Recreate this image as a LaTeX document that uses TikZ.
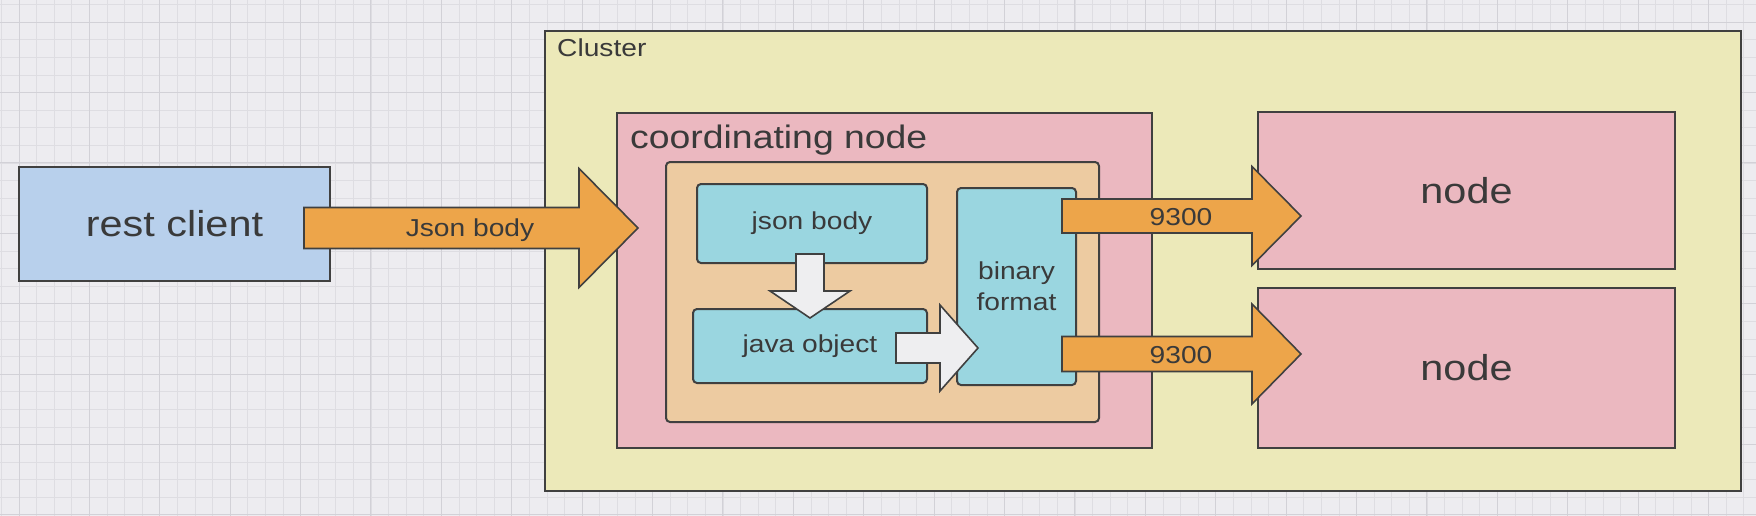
\documentclass[tikz,border=0pt]{standalone}
\usepackage{fontspec}
\setmainfont{Liberation Sans}[FakeStretch=1.15]
\usepackage{xcolor}
\usepackage{tikz}
\usetikzlibrary{calc, positioning}
\definecolor{gridbg}{RGB}{237,236,240}
\definecolor{gridminor}{RGB}{222,221,226}
\definecolor{gridmajor}{RGB}{210,209,215}
\definecolor{clusterfill}{RGB}{236,233,185}
\definecolor{pinkfill}{RGB}{235,184,192}
\definecolor{peachfill}{RGB}{237,203,161}
\definecolor{cyanfill}{RGB}{154,214,224}
\definecolor{bluefill}{RGB}{184,208,236}
\definecolor{orangefill}{RGB}{237,165,74}
\definecolor{whitefill}{RGB}{238,238,240}
\definecolor{edge}{RGB}{64,64,64}
\definecolor{ink}{RGB}{58,58,58}
\newcommand{\smalltxt}{\fontsize{24.5}{31}\selectfont}
\newcommand{\midtxt}{\fontsize{32.5}{39}\selectfont}
\newcommand{\bigtxt}{\fontsize{36}{43}\selectfont}
\tikzstyle{gridthin} = [draw=gridminor, line width=1pt]
\tikzstyle{gridthick} = [draw=gridmajor, line width=1pt]
\tikzstyle{box} = [rectangle, draw=edge, line width=2pt, inner sep=0pt, outer sep=0pt, text=ink]
\tikzstyle{clusterbox} = [box, fill=clusterfill, line width=2.6pt]
\tikzstyle{pinkbox} = [box, fill=pinkfill, font=\bigtxt]
\tikzstyle{peachbox} = [box, fill=peachfill, rounded corners=4pt]
\tikzstyle{cyanbox} = [box, fill=cyanfill, rounded corners=4pt, font=\smalltxt]
\tikzstyle{clientbox} = [box, fill=bluefill, font=\bigtxt]
\tikzstyle{lbl} = [inner sep=0pt, text=ink, font=\smalltxt]
\tikzstyle{fatarrow} = [draw=edge, line width=1.6pt, fill=orangefill]
\tikzstyle{whitearrow} = [draw=edge, line width=1.6pt, fill=whitefill]
% block arrow: style, tail, tip, shaft half width, head half width, head length
\newcommand{\blockarrow}[6]{%
  \coordinate (ba-h) at ($(#3)!#6!(#2)$);
  \draw[#1] ($(#2)!#4!90:(#3)$) -- ($(ba-h)!#4!90:(#3)$) -- ($(ba-h)!#5!90:(#3)$) -- (#3)
    -- ($(ba-h)!#5!-90:(#3)$) -- ($(ba-h)!#4!-90:(#3)$) -- ($(#2)!#4!-90:(#3)$) -- cycle;
}

\begin{document}
\begin{tikzpicture}[x=1pt, y=-1pt]
    % Background grid
    \useasboundingbox (0,0) rectangle (1756,516);
    \fill[gridbg] (0,0) rectangle (1756,516);
    \foreach \k in {-1,...,98} \draw[gridthin] ({round(18.5+17.6*\k)+0.5},0) -- ++(0,516);
    \foreach \k in {0,...,28} \draw[gridthin] (0,{round(4.1+17.6*\k)+0.5}) -- ++(1756,0);
    \foreach \k in {0,...,24} \draw[gridthick] ({round(18.5+70.4*\k)+0.5},0) -- ++(0,516);
    \foreach \k in {0,...,7} \draw[gridthick] (0,{round(21.7+70.4*\k)+0.5}) -- ++(1756,0);

    % Cluster and coordinating node
    \node[clusterbox, minimum width=1196pt, minimum height=460pt] (cluster) at (1143,261) {};
    \node[lbl, anchor=base west] (clusterlbl) at ($(cluster.north west)+(12,26)$) {Cluster};
    \node[pinkbox, minimum width=535pt, minimum height=335pt] (coord) at (884.5,280.5) {};
    \node[lbl, font=\midtxt, anchor=base west] (coordlbl) at ($(coord.north west)+(13,36)$) {coordinating node};
    \node[peachbox, minimum width=433pt, minimum height=260pt] (inner) at (882.5,292) {};

    % Inner steps
    \node[cyanbox, minimum width=230pt, minimum height=79pt] (json) at (812,223.5) {json body};
    \node[cyanbox, minimum width=234pt, minimum height=74pt, below=46pt of json, xshift=-2pt] (java) {java object};
    \node[cyanbox, minimum width=119pt, minimum height=197pt, align=center] (binary) at (1016.5,286.5) {binary\\format};

    % Client and data nodes
    \node[clientbox, minimum width=311pt, minimum height=114pt] (rest) at (174.5,224) {rest client};
    \node[pinkbox, minimum width=417pt, minimum height=157pt] (node1) at (1466.5,190.5) {node};
    \node[pinkbox, minimum width=417pt, minimum height=160pt, below=19pt of node1] (node2) {node};

    % Arrows
    \coordinate (jb-tail) at ($(rest.east)+(-26,4)$);
    \coordinate (jb-tip) at ($(coord.west |- jb-tail)+(21,0)$);
    \blockarrow{fatarrow}{jb-tail}{jb-tip}{20.5pt}{59.5pt}{59pt}
    \node[lbl] (jblbl) at ($(jb-tail)+(166,2)$) {Json body};

    \coordinate (up-tail) at ($(binary.north east)+(-14,28)$);
    \coordinate (up-tip) at ($(node1.west |- up-tail)+(43,0)$);
    \blockarrow{fatarrow}{up-tail}{up-tip}{17pt}{49.5pt}{49pt}
    \node[lbl] (uplbl) at ($(up-tail)+(119,1)$) {9300};

    \coordinate (lo-tail) at ($(binary.south east)+(-14,-31)$);
    \coordinate (lo-tip) at ($(node2.west |- lo-tail)+(43,0)$);
    \blockarrow{fatarrow}{lo-tail}{lo-tip}{17.5pt}{50pt}{49pt}
    \node[lbl] (lolbl) at ($(lo-tail)+(119,1)$) {9300};

    \coordinate (dn-tail) at ($(json.south)+(-2,-9)$);
    \coordinate (dn-tip) at ($(java.north)+(0,9)$);
    \blockarrow{whitearrow}{dn-tail}{dn-tip}{14pt}{40pt}{27pt}

    \coordinate (rt-tail) at ($(java.east)+(-31,2)$);
    \coordinate (rt-tip) at ($(binary.west |- rt-tail)+(21,0)$);
    \blockarrow{whitearrow}{rt-tail}{rt-tip}{15pt}{43pt}{38pt}
\end{tikzpicture}
\end{document}
